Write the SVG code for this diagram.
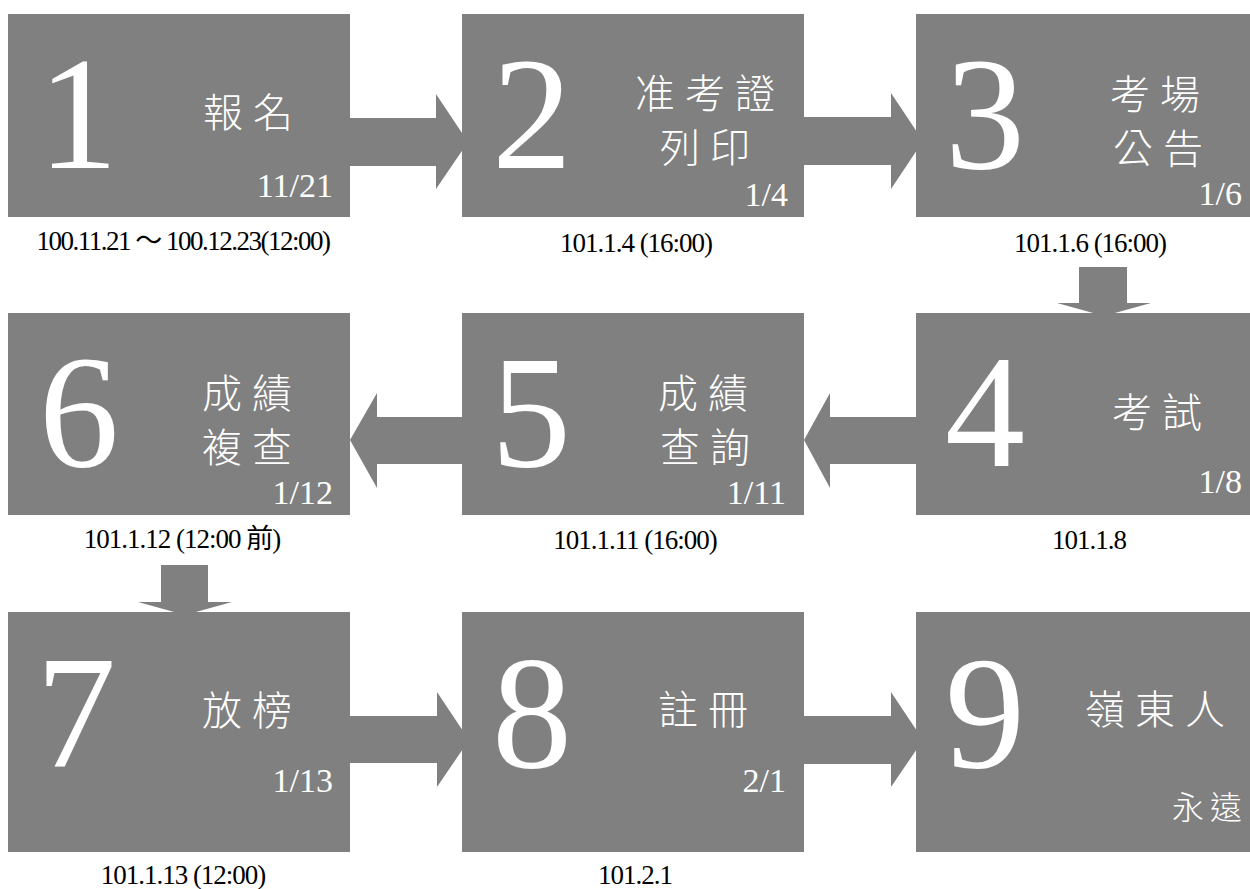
<svg xmlns="http://www.w3.org/2000/svg" width="1250" height="889" viewBox="0 0 1250 889">
<style>
.box{fill:#808080}
.arrow{fill:#808080}
.num{font-family:"Liberation Serif","Times New Roman",serif;font-size:160px;fill:#fff;text-anchor:middle}
.lbl{font-family:"Noto Sans CJK TC","Noto Sans CJK SC",sans-serif;font-size:40px;font-weight:300;fill:#fff;letter-spacing:10px}
.small{font-family:"Noto Sans CJK TC","Noto Sans CJK SC",sans-serif;font-size:32px;font-weight:300;fill:#fff;letter-spacing:6px}
.date{font-family:"Liberation Serif","Times New Roman",serif;font-size:34px;fill:#fff;text-anchor:end}
.cap{font-family:"Liberation Serif","Times New Roman","Noto Sans CJK TC",serif;font-size:27px;fill:#000;text-anchor:middle;letter-spacing:-1px}
</style>
<rect width="1250" height="889" fill="#fff"/>
<g id="connectors">
<polygon class="arrow" points="350,118 436,118 436,94 468,142 436,189 436,166 350,166"/>
<polygon class="arrow" points="804,117 891,117 891,93 923,141 891,189 891,165 804,165"/>
<polygon class="arrow" points="1079,267 1127,267 1127,303 1151,303 1104,316 1057,303 1079,303"/>
<polygon class="arrow" points="916,417 830,417 830,393 804,440 830,488 830,464 916,464"/>
<polygon class="arrow" points="462,417 377,417 377,393 350,440 377,488 377,464 462,464"/>
<polygon class="arrow" points="161,565 208,565 208,602 232,602 185,615 138,602 161,602"/>
<polygon class="arrow" points="350,716 437,716 437,692 469,740 437,787 437,763 350,763"/>
<polygon class="arrow" points="804,716 891,716 891,692 923,740 891,787 891,764 804,764"/>
</g>
<g id="node1">
<rect class="box" x="8" y="14" width="342" height="203"/>
<text class="num" x="78" y="168">1</text>
<text class="lbl" x="203" y="127">報名</text>
<text class="date" x="333" y="197">11/21</text>
<text class="cap" x="183" y="250" style="letter-spacing:-1.5px">100.11.21 ～ 100.12.23(12:00)</text>
</g>
<g id="node2">
<rect class="box" x="462" y="14" width="342" height="203"/>
<text class="num" x="532" y="168">2</text>
<text class="lbl"><tspan x="635" y="108">准考證</tspan><tspan x="660" y="162">列印</tspan></text>
<text class="date" x="788" y="206">1/4</text>
<text class="cap" x="636" y="252">101.1.4 (16:00)</text>
</g>
<g id="node3">
<rect class="box" x="916" y="14" width="334" height="203"/>
<text class="num" x="985" y="168">3</text>
<text class="lbl"><tspan x="1110" y="109">考場</tspan><tspan x="1113" y="163">公告</tspan></text>
<text class="date" x="1242" y="205">1/6</text>
<text class="cap" x="1090" y="252">101.1.6 (16:00)</text>
</g>
<g id="node4">
<rect class="box" x="916" y="313" width="334" height="202"/>
<text class="num" x="985" y="466">4</text>
<text class="lbl" x="1112" y="427">考試</text>
<text class="date" x="1242" y="493">1/8</text>
<text class="cap" x="1089" y="549">101.1.8</text>
</g>
<g id="node5">
<rect class="box" x="462" y="313" width="342" height="202"/>
<text class="num" x="531" y="466">5</text>
<text class="lbl"><tspan x="658" y="408">成績</tspan><tspan x="660" y="462">查詢</tspan></text>
<text class="date" x="786" y="504">1/11</text>
<text class="cap" x="635" y="549">101.1.11 (16:00)</text>
</g>
<g id="node6">
<rect class="box" x="8" y="313" width="342" height="202"/>
<text class="num" x="79" y="466">6</text>
<text class="lbl"><tspan x="202" y="408">成績</tspan><tspan x="202" y="462">複查</tspan></text>
<text class="date" x="333" y="504">1/12</text>
<text class="cap" x="182" y="548">101.1.12 (12:00 前)</text>
</g>
<g id="node7">
<rect class="box" x="8" y="612" width="342" height="240"/>
<text class="num" x="76" y="767">7</text>
<text class="lbl" x="202" y="725">放榜</text>
<text class="date" x="333" y="792">1/13</text>
<text class="cap" x="183" y="884">101.1.13 (12:00)</text>
</g>
<g id="node8">
<rect class="box" x="462" y="612" width="342" height="240"/>
<text class="num" x="532" y="767">8</text>
<text class="lbl" x="658" y="724">註冊</text>
<text class="date" x="786" y="792">2/1</text>
<text class="cap" x="635" y="884">101.2.1</text>
</g>
<g id="node9">
<rect class="box" x="916" y="612" width="334" height="240"/>
<text class="num" x="985" y="767">9</text>
<text class="lbl" x="1085" y="724">嶺東人</text>
<text class="small" x="1172" y="819">永遠</text>
</g>
</svg>
